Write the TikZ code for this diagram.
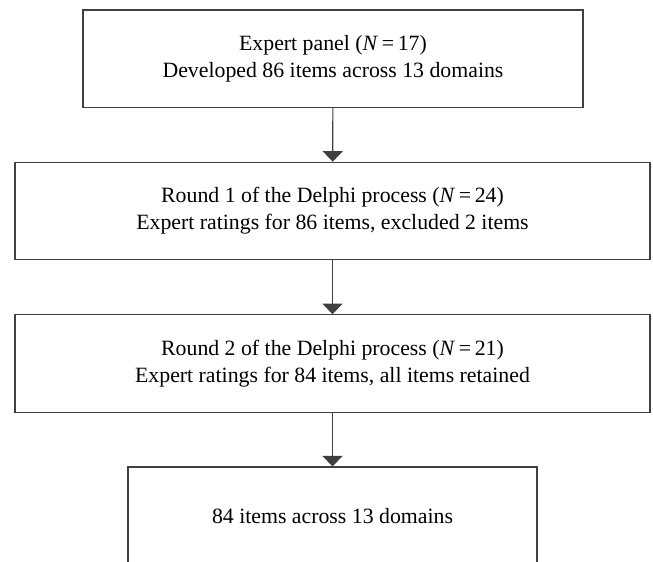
\documentclass[tikz,border=0pt]{standalone}
\usepackage{fontspec}
\setmainfont{Liberation Serif}
\usetikzlibrary{arrows.meta}

\begin{document}
\begin{tikzpicture}[x=1pt,y=-1pt,
    box/.style={draw=black!75,line width=1.1pt,minimum height=97.5pt,inner sep=0pt,align=center,
        font=\fontsize{21.8}{27}\selectfont},
    flow/.style={draw=black!75,line width=1.1pt,-{Triangle[width=20pt,length=10.5pt]}}]

    % Fix the page size
    \useasboundingbox (0,0) rectangle (653,562);

    % Draw the boxes of the process
    \node[box,minimum width=500pt] (panel) at (333,58.75) {Expert panel (\textit{N}\,=\,17)\\Developed 86 items across 13 domains};
    \node[box,minimum width=635pt] (round1) at (332.5,211) {Round 1 of the Delphi process (\textit{N}\,=\,24)\\Expert ratings for 86 items, excluded 2 items};
    \node[box,minimum width=635pt] (round2) at (332.5,363.5) {Round 2 of the Delphi process (\textit{N}\,=\,21)\\Expert ratings for 84 items, all items retained};
    \node[box,minimum width=409pt,minimum height=98pt] (final) at (332.5,516) {84 items across 13 domains};

    % Draw the arrows between them
    \draw[flow] (panel) -- (round1);
    \draw[flow] (round1) -- (round2);
    \draw[flow] (round2) -- (final);

\end{tikzpicture}
\end{document}
